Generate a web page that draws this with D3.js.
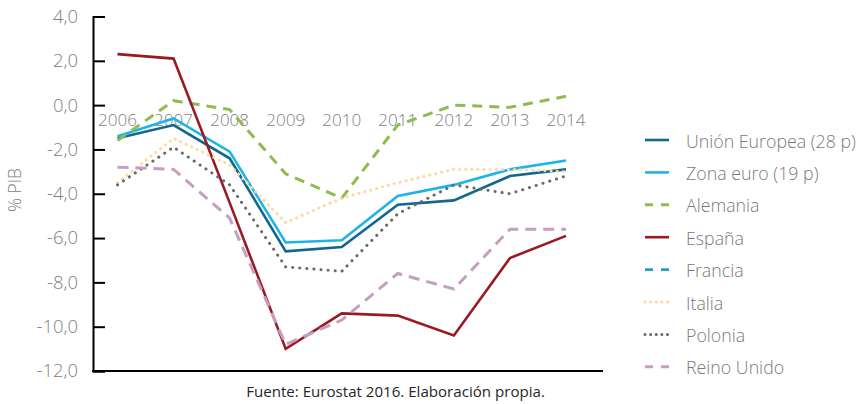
<!DOCTYPE html>
<html><head><meta charset="utf-8">
<script src="https://cdn.jsdelivr.net/npm/d3@7"></script>
<style>body{margin:0;background:#fff}svg{display:block}text{font-family:"Open Sans",Lato,sans-serif;font-weight:300}</style>
</head><body><svg id="c" width="859" height="404"></svg>
<script>
const years = ["2006","2007","2008","2009","2010","2011","2012","2013","2014"];
const yTicks = [4,2,0,-2,-4,-6,-8,-10,-12];
const unionEuropea = [-1.5,-0.9,-2.4,-6.6,-6.4,-4.5,-4.3,-3.2,-2.9];
const zonaEuro = [-1.4,-0.6,-2.1,-6.2,-6.1,-4.1,-3.6,-2.9,-2.5];
const alemania = [-1.6,0.2,-0.2,-3.1,-4.2,-0.9,0.0,-0.1,0.4];
const espana = [2.3,2.1,-4.4,-11.0,-9.4,-9.5,-10.4,-6.9,-5.9];
const francia = [];
const italia = [-3.5,-1.5,-2.7,-5.3,-4.2,-3.5,-2.9,-2.9,-3.0];
const polonia = [-3.6,-1.9,-3.6,-7.3,-7.5,-4.9,-3.6,-4.0,-3.2];
const reinoUnido = [-2.8,-2.9,-5.1,-10.8,-9.7,-7.6,-8.3,-5.6,-5.6];

const series = [
  {name:"Unión Europea (28 p)", values:unionEuropea, color:"#13678d", dash:null, w:2.6, cap:"butt"},
  {name:"Zona euro (19 p)", values:zonaEuro, color:"#1cb6e6", dash:null, w:2.6, cap:"butt"},
  {name:"Alemania", values:alemania, color:"#8fbb4f", dash:"10,7", w:3, cap:"butt"},
  {name:"España", values:espana, color:"#9b1a22", dash:null, w:2.6, cap:"butt"},
  {name:"Francia", values:francia, color:"#2a9dc7", dash:"8,7", w:2.6, cap:"butt"},
  {name:"Italia", values:italia, color:"#fdd8a0", dash:"0.1,6", w:3, cap:"round"},
  {name:"Polonia", values:polonia, color:"#6a6a6a", dash:"0.1,7", w:3, cap:"round"},
  {name:"Reino Unido", values:reinoUnido, color:"#c59fc1", dash:"11,7", w:3, cap:"butt"}
];

const svg = d3.select("#c");
const x = d3.scalePoint().domain(years).range([117.5,566]);
const y = d3.scaleLinear().domain([-12,4]).range([371,16.5]);
const axisX = 93;

function fit(sel, target){
  const n = sel.node(); const fs = parseFloat(sel.style("font-size"));
  const w = n.getComputedTextLength(); if (w>0) sel.style("font-size",(fs*target/w)+"px");
}

const ya = svg.append("g").attr("transform",`translate(${axisX},0)`)
  .call(d3.axisLeft(y).tickValues(yTicks).tickSize(-12).tickFormat(d=>d3.format(".1f")(d).replace(".",",").replace("−","-")).tickPadding(15));
ya.select(".domain").attr("stroke","#000").attr("stroke-width",2);
ya.selectAll(".tick line").attr("stroke","#000").attr("stroke-width",2);
ya.selectAll(".tick text").attr("fill","#808080").style("font-size","15px").attr("x",-15);
{ const last = ya.selectAll(".tick text").filter(d=>d===-12); fit(last,41.5);
  ya.selectAll(".tick text").style("font-size", last.style("font-size")); }

svg.append("line").attr("x1",axisX-1).attr("x2",603).attr("y1",y(-12)).attr("y2",y(-12)).attr("stroke","#000").attr("stroke-width",2);

const yl = svg.append("g").selectAll("text").data(years).join("text")
  .attr("x",d=>x(d)).attr("y",y(0)+21).attr("text-anchor","middle")
  .attr("fill","#7f7f7f").style("font-size","17px").text(d=>d);
{ const f = d3.select(yl.nodes()[0]); fit(f,39); yl.style("font-size", f.style("font-size")); }

const line = d3.line().x((d,i)=>x(years[i])).y(d=>y(d));
svg.append("g").selectAll("path").data(series.filter(s=>s.values.length)).join("path")
  .attr("d",s=>line(s.values)).attr("fill","none").attr("stroke",s=>s.color)
  .attr("stroke-width",s=>s.w).attr("stroke-dasharray",s=>s.dash).attr("stroke-linecap",s=>s.cap)
  .attr("stroke-linejoin","miter");

const lg = svg.append("g").selectAll("g").data(series).join("g")
  .attr("transform",(d,i)=>`translate(645,${140+i*32.4})`);
lg.append("line").attr("x1",0).attr("x2",24).attr("stroke",d=>d.color)
  .attr("stroke-width",d=>d.w).attr("stroke-dasharray",d=>d.dash?(d.cap==="round"?"0.1,5.5":"8,8"):null)
  .attr("stroke-linecap",d=>d.cap);
const lt = lg.append("text").attr("x",41).attr("y",7.5).attr("fill","#7a7a7a").style("font-size","17px").text(d=>d.name);
{ const f = d3.select(lt.nodes()[0]); fit(f,170); lt.style("font-size", f.style("font-size")); }

const yLab = svg.append("text").attr("transform","translate(21,190) rotate(-90)").attr("text-anchor","middle")
  .attr("fill","#808080").style("font-size","15px").text("% PIB");
fit(yLab,44);

const src = svg.append("text").attr("x",395.5).attr("y",397).attr("text-anchor","middle").attr("fill","#262626")
  .style("font-size","14px").style("font-weight","400").text("Fuente: Eurostat 2016. Elaboración propia.");
fit(src,299);
</script></body></html>
